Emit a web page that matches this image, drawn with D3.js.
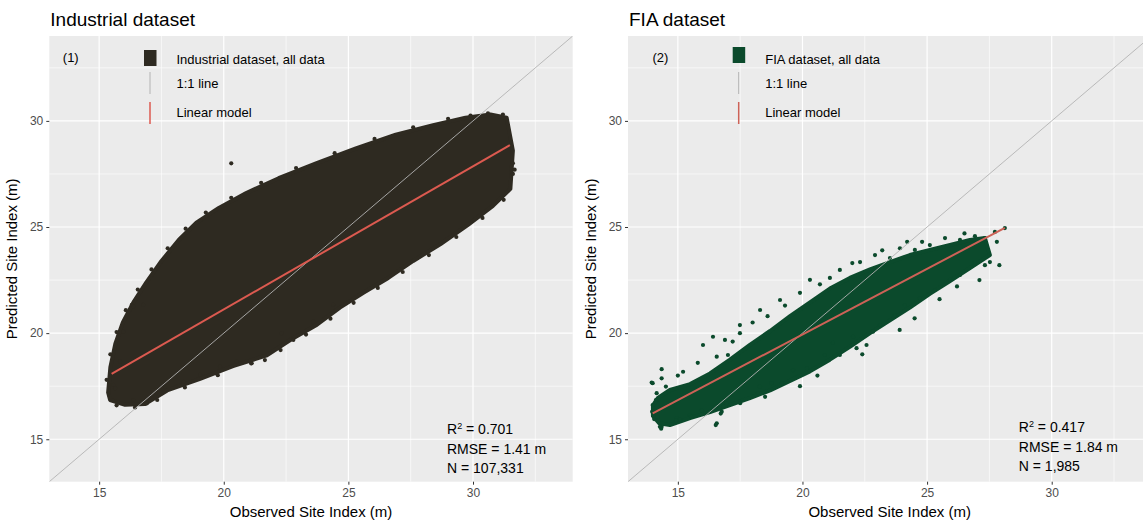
<!DOCTYPE html>
<html>
<head>
<meta charset="utf-8">
<script src="https://cdn.jsdelivr.net/npm/d3@7"></script>
<style>
  body { margin: 0; background: #fff; }
  svg text { font-family: "Liberation Sans", Arial, sans-serif; }
</style>
</head>
<body>
<div id="chart"></div>
<script>
// Axis settings
const domain = [13, 34];
const majorTicks = [15, 20, 25, 30];
const minorTicks = [17.5, 22.5, 27.5, 32.5];

// Industrial dataset: dense cloud outline (upper edge then lower edge) + stray points
const industrialUpper = [[15.36,17.2],[15.45,18.4],[15.65,19.5],[15.95,20.5],[16.4,21.5],[16.9,22.4],[17.5,23.4],[18.2,24.4],[18.9,25.2],[19.8,25.9],[20.9,26.6],[22.2,27.3],[23.7,28.0],[25.3,28.7],[26.9,29.35],[28.4,29.8],[29.7,30.15],[30.7,30.3],[31.35,30.15]];
const industrialLower = [[31.6,28.6],[31.5,26.8],[30.8,26.0],[29.8,25.1],[28.7,24.2],[27.6,23.4],[26.6,22.6],[25.6,21.9],[24.66,21.2],[23.74,20.4],[22.7,19.7],[21.73,18.95],[20.37,18.45],[19.05,17.85],[17.73,17.3],[16.84,16.66],[16.04,16.62],[15.44,16.85]];
const industrialStray = [[15.57,17.56],[15.97,20.07],[16.31,21.33],[15.84,18.66],[15.64,17.40],[16.37,16.85],[16.91,16.69],[21.12,18.58],[21.65,18.73],[22.32,19.99],[22.79,19.68],[23.59,20.54],[24.39,21.33],[17.64,17.48],[18.38,17.71],[19.05,18.03],[19.85,18.42],[20.52,18.66],[16.37,21.25],[16.77,21.33],[20.30,28.0],[29.9,30.25],[30.6,30.35],[31.2,30.3],[31.6,28.0],[31.6,27.5],
  [15.3,17.8],[15.45,19.0],[15.7,20.05],[16.07,21.08],[16.55,22.05],[17.1,23.0],[17.75,24.0],[18.47,24.92],[19.28,25.68],[20.3,26.38],[21.5,27.08],[22.9,27.78],[24.45,28.48],[26.05,29.15],[27.6,29.7],[29.0,30.1],
  [31.67,27.7],[31.23,26.28],[30.38,25.43],[29.33,24.53],[28.23,23.68],[27.18,22.88],[26.18,22.13],[25.21,21.43],[24.28,20.68],[23.3,19.93],[22.28,19.2],[21.1,18.57],[19.76,18.02],[18.44,17.44],[17.33,16.85],[16.44,16.5],[15.7,16.6]];

// FIA dataset: core outline + scattered points
const fiaUpper = [[14.0,16.6],[14.2,16.95],[14.68,17.32],[15.49,17.6],[16.29,18.1],[17.09,18.75],[17.89,19.45],[18.70,20.1],[19.50,20.8],[20.30,21.45],[21.10,22.1],[21.90,22.6],[22.71,23.0],[23.51,23.35],[24.31,23.68],[25.11,23.92],[25.92,24.15],[26.72,24.39],[27.32,24.48]];
const fiaLower = [[27.52,23.68],[26.72,23.07],[25.92,22.45],[25.11,21.85],[24.31,21.2],[23.51,20.6],[22.71,20.0],[21.90,19.35],[21.10,18.75],[20.30,18.2],[19.50,17.75],[18.70,17.3],[17.89,16.94],[17.09,16.61],[16.29,16.28],[15.49,16.00],[14.68,15.67],[14.25,15.75],[14.0,16.1]];
const fiaStray = [[13.99,17.64],[14.35,18.30],[14.12,16.85],[14.35,15.59],[14.95,15.99],[15.09,15.91],[15.49,16.14],[15.96,16.35],[16.56,15.75],[16.76,16.30],[15.21,18.18],[16.01,19.44],[16.41,19.83],[16.56,18.89],[17.01,18.97],[17.49,20.0],[18.29,17.48],[18.21,17.18],[18.76,17.64],[19.17,17.64],[19.62,18.26],[20.17,18.34],[20.9,18.97],[21.5,18.97],[22.17,19.29],[22.57,19.44],[22.03,19.83],[21.22,19.54],[22.83,20.07],[14.35,17.87],[14.52,17.48],[13.95,17.67],[14.15,17.17],[13.99,16.61],[14.28,15.59],[14.33,15.50],[14.93,15.88],[15.54,16.05],[16.52,15.67],[16.72,16.21],[16.83,16.54],[16.95,16.68],[28.12,24.95],[27.72,24.77],[27.32,24.48],[26.92,24.57],[26.32,24.39],[25.72,24.48],[25.11,24.15],[24.51,23.92],[23.91,24.0],[23.51,23.54],[27.32,23.2],[27.52,23.35],[26.92,23.35],[26.32,22.74],[25.92,22.51],[25.31,22.03],[24.71,21.65],[24.11,21.32],[23.71,20.85],[23.11,20.38],[20.30,22.51],[21.10,22.60],[19.10,21.56],[18.3,21.09],[17.49,20.38],[16.89,19.68],[21.5,22.98],[22.31,23.35],[22.91,23.68],
  [19.9,21.9],[20.7,22.3],[19.3,21.3],[18.0,20.5],[23.2,23.9],[24.2,24.3],[22.0,23.3],[18.6,20.8],[17.2,19.6],[15.8,18.6],[15.0,18.0],
  [23.9,20.15],[25.5,21.6],[27.1,22.5],[27.9,23.2],[24.5,20.7],[26.2,22.2],[22.4,19.0],[20.6,18.0],[19.9,17.5],[18.5,17.0],[17.5,16.7],[27.8,24.3],[26.5,24.7],[24.8,24.3],
  [13.97,16.3],[14.05,15.95],[14.18,16.05]];

// Linear model fits (observed range)
const industrialFit = [[15.50,18.08],[31.48,28.86]];
const fiaFit = [[13.99,16.22],[28.12,24.96]];

const industrialStats = ["0.701", "RMSE = 1.41 m", "N = 107,331"];
const fiaStats = ["0.417", "RMSE = 1.84 m", "N = 1,985"];

const W = 1143, H = 522;
const svg = d3.select("#chart").append("svg")
  .attr("width", W).attr("height", H);

const panelTop = 36, panelBottom = 481.7;

function drawPanel(opts) {
  const x = d3.scaleLinear().domain(domain).range([opts.x0, opts.x0 + 523.4]);
  const y = d3.scaleLinear().domain(domain).range([panelBottom, panelTop]);
  const g = svg.append("g");

  const clipId = "clip" + opts.id;
  g.append("clipPath").attr("id", clipId)
    .append("rect").attr("x", x(domain[0])).attr("y", panelTop)
    .attr("width", x(domain[1]) - x(domain[0])).attr("height", panelBottom - panelTop);

  g.append("rect")
    .attr("x", x(domain[0])).attr("y", panelTop)
    .attr("width", x(domain[1]) - x(domain[0])).attr("height", panelBottom - panelTop)
    .attr("fill", "#ebebeb");

  const grid = g.append("g");
  minorTicks.forEach(t => {
    grid.append("line").attr("x1", x(t)).attr("x2", x(t)).attr("y1", panelTop).attr("y2", panelBottom)
      .attr("stroke", "#fff").attr("stroke-width", 0.6);
    grid.append("line").attr("y1", y(t)).attr("y2", y(t)).attr("x1", x(domain[0])).attr("x2", x(domain[1]))
      .attr("stroke", "#fff").attr("stroke-width", 0.6);
  });
  majorTicks.forEach(t => {
    grid.append("line").attr("x1", x(t)).attr("x2", x(t)).attr("y1", panelTop).attr("y2", panelBottom)
      .attr("stroke", "#fff").attr("stroke-width", 1.2);
    grid.append("line").attr("y1", y(t)).attr("y2", y(t)).attr("x1", x(domain[0])).attr("x2", x(domain[1]))
      .attr("stroke", "#fff").attr("stroke-width", 1.2);
  });

  const plot = g.append("g").attr("clip-path", `url(#${clipId})`);

  // point cloud
  const area = opts.upper.concat(opts.lower);
  plot.append("path")
    .attr("d", d3.line().x(d => x(d[0])).y(d => y(d[1])).curve(d3.curveLinearClosed)(area))
    .attr("fill", opts.color).attr("stroke", opts.color)
    .attr("stroke-width", 4).attr("stroke-linejoin", "round");
  plot.selectAll(".pt").data(opts.stray).enter()
    .append("circle").attr("class", "pt")
    .attr("cx", d => x(d[0])).attr("cy", d => y(d[1])).attr("r", 2.1)
    .attr("fill", opts.color);

  // 1:1 line
  plot.append("line")
    .attr("x1", x(domain[0])).attr("y1", y(domain[0]))
    .attr("x2", x(domain[1])).attr("y2", y(domain[1]))
    .attr("stroke", "#b3b3b3").attr("stroke-width", 0.9);

  // linear model
  plot.append("line")
    .attr("x1", x(opts.fit[0][0])).attr("y1", y(opts.fit[0][1]))
    .attr("x2", x(opts.fit[1][0])).attr("y2", y(opts.fit[1][1]))
    .attr("stroke", opts.lineColor).attr("stroke-width", 2);

  // axes
  const xAxis = g.append("g").attr("transform", `translate(0,${panelBottom})`)
    .call(d3.axisBottom(x).tickValues(majorTicks).tickSize(3).tickPadding(4));
  const yAxis = g.append("g").attr("transform", `translate(${opts.x0},0)`)
    .call(d3.axisLeft(y).tickValues(majorTicks).tickSize(3).tickPadding(3));
  [xAxis, yAxis].forEach(a => {
    a.select(".domain").remove();
    a.selectAll(".tick line").attr("stroke", "#333").attr("stroke-width", 1);
    a.selectAll(".tick text").attr("fill", "#4d4d4d").style("font-size", "12px");
  });

  g.append("text")
    .attr("x", (x(domain[0]) + x(domain[1])) / 2).attr("y", 517)
    .attr("text-anchor", "middle").style("font-size", "15px")
    .text("Observed Site Index (m)");
  g.append("text")
    .attr("transform", `translate(${opts.x0 - 32},${(panelTop + panelBottom) / 2}) rotate(-90)`)
    .attr("text-anchor", "middle").style("font-size", "15px")
    .text("Predicted Site Index (m)");

  g.append("text").attr("x", opts.x0 + 1).attr("y", 26)
    .style("font-size", "19px").text(opts.title);

  // legend
  const lx = opts.x0 + opts.legendDx;
  g.append("text").attr("x", opts.x0 + opts.labelDx).attr("y", 62)
    .style("font-size", "13px").text(opts.label);
  g.append("rect").attr("x", lx - 6).attr("y", opts.keyTop)
    .attr("width", 12.5).attr("height", 16).attr("fill", opts.color);
  g.append("line").attr("x1", lx).attr("x2", lx).attr("y1", 72).attr("y2", 94)
    .attr("stroke", "#b3b3b3").attr("stroke-width", 1);
  g.append("line").attr("x1", lx).attr("x2", lx).attr("y1", 102).attr("y2", 124)
    .attr("stroke", opts.lineColor).attr("stroke-width", 1.5);
  const tx = lx + 26.5;
  g.append("text").attr("x", tx).attr("y", 64).style("font-size", "13px").text(opts.legendText);
  g.append("text").attr("x", tx).attr("y", 88).style("font-size", "13px").text("1:1 line");
  g.append("text").attr("x", tx).attr("y", 117).style("font-size", "13px").text("Linear model");

  // stats
  const sx = opts.x0 + opts.statsDx;
  const r2 = g.append("text").attr("x", sx).attr("y", opts.statsY[0]).style("font-size", "14px");
  r2.append("tspan").text("R");
  r2.append("tspan").attr("dy", -5).style("font-size", "9px").text("2");
  r2.append("tspan").attr("dy", 5).text(" = " + opts.stats[0]);
  g.append("text").attr("x", sx).attr("y", opts.statsY[1]).style("font-size", "14px").text(opts.stats[1]);
  g.append("text").attr("x", sx).attr("y", opts.statsY[2]).style("font-size", "14px").text(opts.stats[2]);
}

drawPanel({
  id: 1, x0: 49.3, title: "Industrial dataset", label: "(1)", labelDx: 13.5,
  legendDx: 100.7, keyTop: 50, legendText: "Industrial dataset, all data",
  color: "#2e2a21", lineColor: "#dc5a50",
  upper: industrialUpper, lower: industrialLower, stray: industrialStray, fit: industrialFit,
  stats: industrialStats, statsDx: 397.7, statsY: [434, 453.5, 473]
});

drawPanel({
  id: 2, x0: 628, title: "FIA dataset", label: "(2)", labelDx: 24.5,
  legendDx: 110.7, keyTop: 47, legendText: "FIA dataset, all data",
  color: "#0b4a2c", lineColor: "#cd6257",
  upper: fiaUpper, lower: fiaLower, stray: fiaStray, fit: fiaFit,
  stats: fiaStats, statsDx: 390.8, statsY: [432, 451.5, 470.5]
});
</script>
</body>
</html>
